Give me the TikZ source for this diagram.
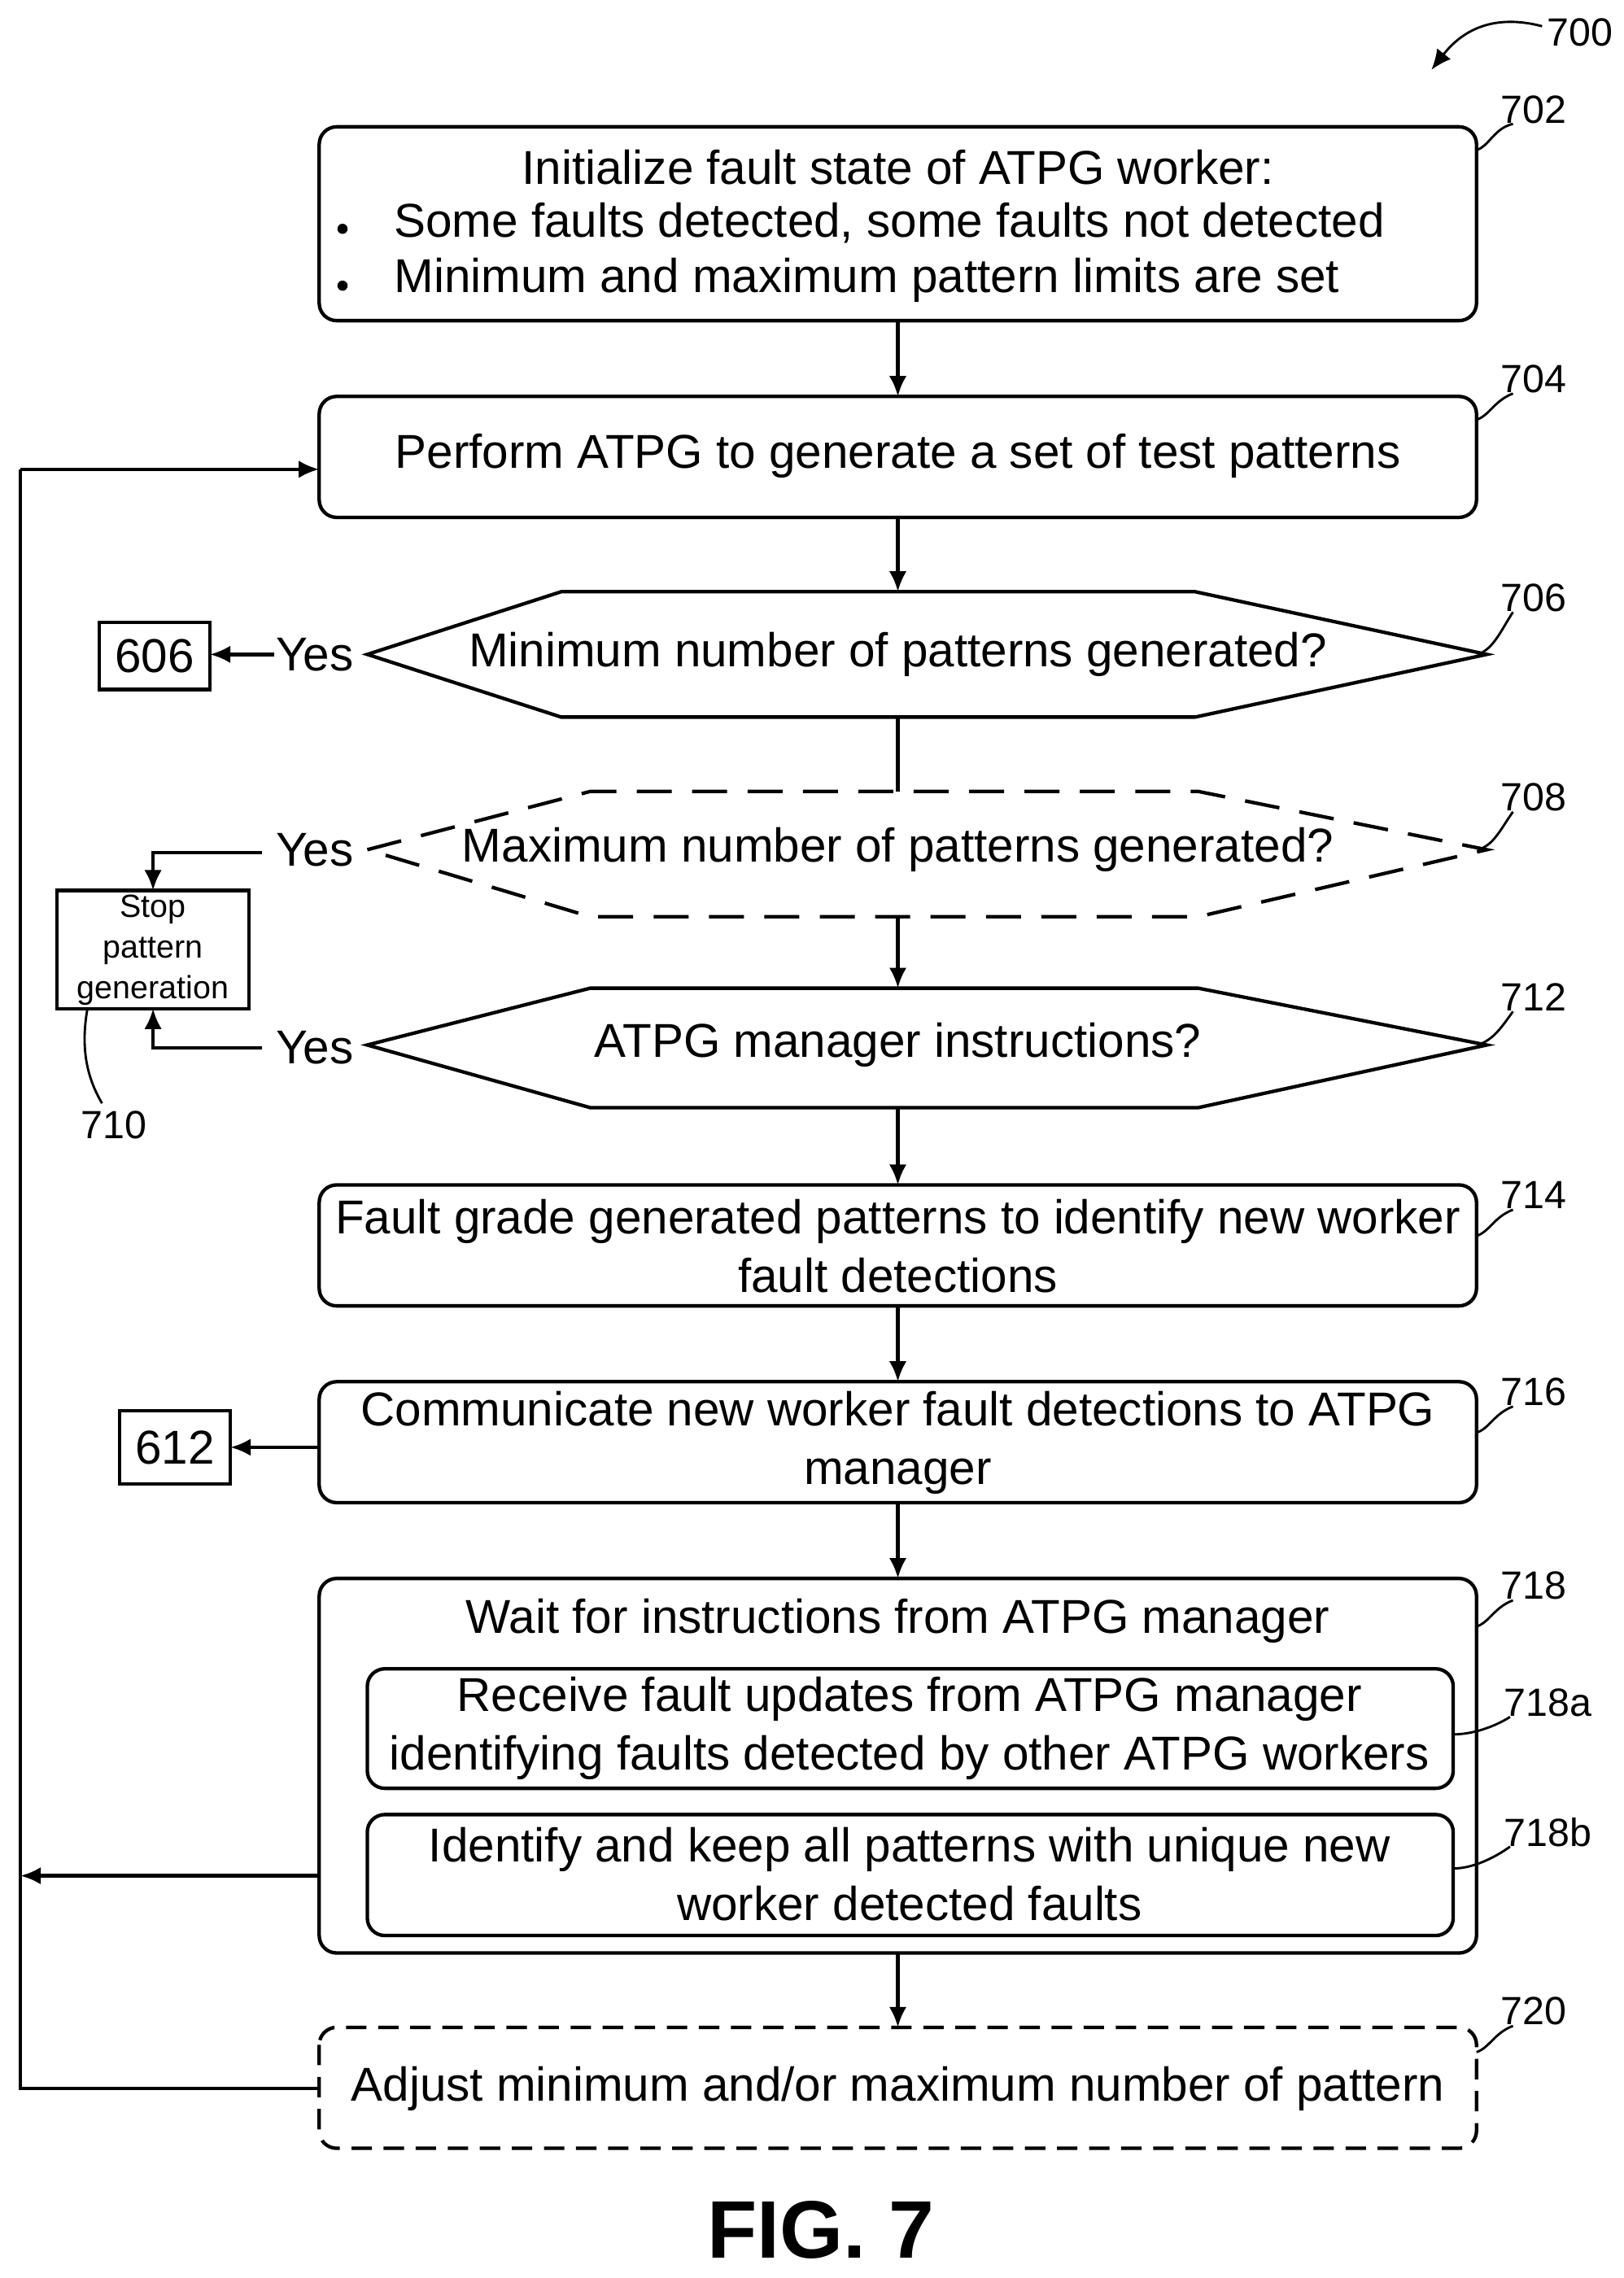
\documentclass[tikz,border=0pt]{standalone}
\usepackage{fontspec}
\setmainfont{Liberation Sans}
\usetikzlibrary{arrows.meta}
\begin{document}
\begin{tikzpicture}[x=0.5pt,y=-0.5pt,
 box/.style={draw,line width=1.2pt,rounded corners=6pt},
 dbox/.style={box,dash pattern=on 7pt off 4pt},
 t/.style={font=\fontsize{16.3}{18}\selectfont,inner sep=0pt},
 lbl/.style={font=\fontsize{13.5}{15}\selectfont,inner sep=1pt},
 ar/.style={line width=1.2pt,-{Latex[length=7pt,width=6pt]}},
 ln/.style={line width=1.2pt},
 ld/.style={line width=0.8pt}]
\useasboundingbox (0,0) rectangle (1114,1563);
% 702
\draw[box] (219,87) rectangle (1013,220);
\node[t] (t702) at (616,115) {Initialize fault state of ATPG worker:};
\node[t,anchor=west] (b1) at (270,153) {Some faults detected, some faults not detected};
\node[t,anchor=west] (b2) at (270,192) {Minimum and maximum pattern limits are set};
\fill (235,157) circle (3.5); \fill (235,196) circle (3.5);
% 704
\draw[box] (219,272) rectangle (1013,355);
\node[t] (t704) at (616,313) {Perform ATPG to generate a set of test patterns};
% hexagons
\draw[ln] (252,449)--(385,406)--(820,406)--(1020,449)--(820,492)--(385,492)--cycle;
\node[t] (t706) at (616,449) {Minimum number of patterns generated?};
\draw[ln,dash pattern=on 12pt off 7pt] (252,583)--(405,543)--(822,543)--(1020,583)--(822,629)--(405,629)--cycle;
\node[t] (t708) at (616,583) {Maximum number of patterns generated?};
\draw[ln] (252,717)--(405,678)--(822,678)--(1020,717)--(822,760)--(405,760)--cycle;
\node[t] (t712) at (616,717) {ATPG manager instructions?};
% 714,716
\draw[box] (219,813) rectangle (1013,896);
\node[t,align=center] (t714) at (616,855) {Fault grade generated patterns to identify new worker\\[2pt]fault detections};
\draw[box] (219,948) rectangle (1013,1031);
\node[t,align=center] (t716) at (616,990) {Communicate new worker fault detections to ATPG\\[2pt]manager};
% 718
\draw[box] (219,1083) rectangle (1013,1340);
\node[t] (t718) at (616,1112) {Wait for instructions from ATPG manager};
\draw[box] (252,1145) rectangle (997,1227);
\node[t,align=center] (t718a) at (624,1186) {Receive fault updates from ATPG manager\\[2pt]identifying faults detected by other ATPG workers};
\draw[box] (252,1245) rectangle (997,1328);
\node[t,align=center] (t718b) at (624,1286) {Identify and keep all patterns with unique new\\[2pt]worker detected faults};
% 720
\draw[dbox] (219,1391) rectangle (1013,1474);
\node[t] (t720) at (616,1433) {Adjust minimum and/or maximum number of pattern};
% side boxes
\draw[ln] (68,427) rectangle (144,473); \node[t] (n606) at (106,450) {606};
\draw[ln] (82,968) rectangle (158,1018); \node[t] (n612) at (120,993) {612};
\draw[ln] (39,611) rectangle (171,692);
\node[font=\fontsize{11}{14}\selectfont,align=center,inner sep=0pt] (stop) at (105,652) {Stop\\pattern\\generation};
\node[t] (y1) at (216,449) {Yes};
\node[t] (y2) at (216,583) {Yes};
\node[t] (y3) at (216,719) {Yes};
% connectors
\draw[ar] (616,220)--(616,272);
\draw[ar] (616,355)--(616,406);
\draw[ln] (616,492)--(616,543);
\draw[ar] (616,629)--(616,678);
\draw[ar] (616,760)--(616,813);
\draw[ar] (616,896)--(616,948);
\draw[ar] (616,1031)--(616,1083);
\draw[ar] (616,1340)--(616,1391);
\draw[ar] (188,449)--(144,449);
\draw[ar] (219,993)--(158,993);
\draw[ar] (180,585)--(105,585)--(105,611);
\draw[ar] (180,719)--(105,719)--(105,692);
\draw[ln] (219,1433)--(14,1433)--(14,322);
\draw[ar] (14,322)--(219,322);
\draw[ar] (219,1287)--(14,1287);
% labels
\node[lbl] (l700) at (1084,22) {700};
\draw[ld,-{Latex[length=7pt,width=6pt]}] (1058,18) .. controls (1020,8) and (1000,25) .. (982,48);
\foreach \n/\y in {702/75,704/260,706/410,708/547,712/684,714/820,716/955,718/1088,720/1380}{\node[lbl] (l\n) at (1052,\y) {\n};}
\node[lbl] (l718a) at (1062,1168) {718a};
\node[lbl] (l718b) at (1062,1257) {718b};
\node[lbl] (l710) at (78,772) {710};
\draw[ld] (1038,85) .. controls (1025,88) and (1022,100) .. (1013,103);
\draw[ld] (1038,270) .. controls (1025,275) and (1022,285) .. (1013,288);
\draw[ld] (1038,420) .. controls (1030,432) and (1025,445) .. (1014,449);
\draw[ld] (1038,557) .. controls (1030,568) and (1025,580) .. (1014,583);
\draw[ld] (1038,694) .. controls (1030,705) and (1025,713) .. (1014,717);
\draw[ld] (1038,830) .. controls (1025,835) and (1022,845) .. (1013,848);
\draw[ld] (1038,965) .. controls (1025,970) and (1022,980) .. (1013,983);
\draw[ld] (1038,1098) .. controls (1025,1103) and (1022,1113) .. (1013,1116);
\draw[ld] (1036,1178) .. controls (1025,1185) and (1010,1190) .. (997,1190);
\draw[ld] (1036,1267) .. controls (1025,1275) and (1010,1282) .. (997,1282);
\draw[ld] (1038,1390) .. controls (1025,1395) and (1022,1405) .. (1013,1408);
\draw[ld] (70,757) .. controls (60,740) and (55,720) .. (60,692);
\node[font=\fontsize{28}{30}\selectfont\bfseries,inner sep=0pt] (fig) at (563,1530) {FIG. 7};
\end{tikzpicture}
\end{document}
